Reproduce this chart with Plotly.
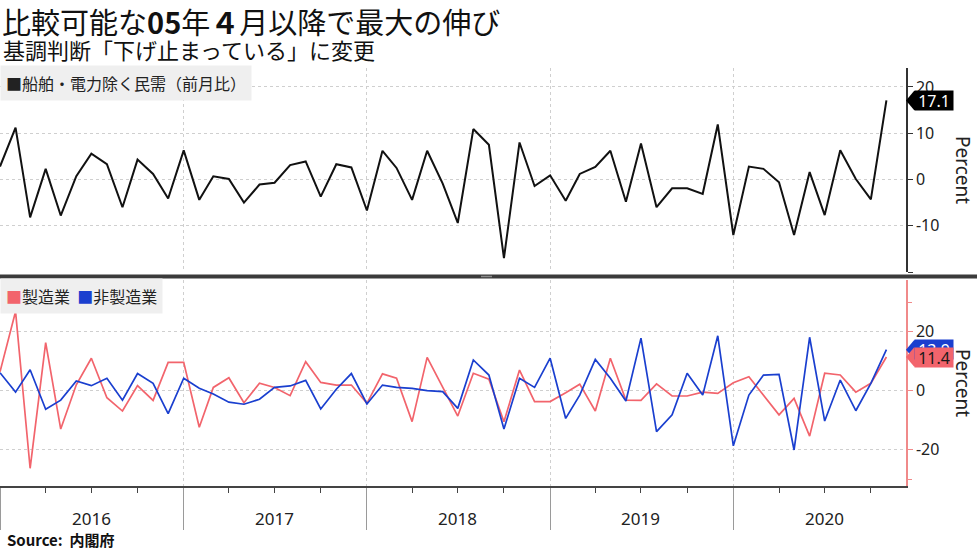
import plotly.graph_objects as go
import pandas as pd

# ---- data ----
months = pd.date_range("2016-01-01", periods=59, freq="MS")

core_orders = [2.8, 11.2, -8.2, 2.3, -7.8, 0.7, 5.6, 3.3, -6.0, 4.3, 1.2, -4.1,
               6.3, -4.4, 0.7, 0.1, -5.0, -1.1, -0.7, 3.1, 3.9, -3.7, 3.3, 2.6,
               -6.7, 6.2, 2.5, -4.4, 6.2, -0.9, -9.4, 10.9, 7.5, -17.0, 8.0, -1.4,
               0.9, -4.6, 1.2, 2.7, 6.2, -4.8, 7.8, -6.0, -1.9, -1.9, -3.1, 11.9,
               -12.0, 2.8, 2.3, -0.6, -12.0, 1.6, -7.7, 6.3, 0.1, -4.3, 17.1]

manufacturing = [6.4, 26.8, -26.3, 16.3, -13.0, 2.0, 11.0, -2.4, -6.9, 1.7, -3.3, 9.6,
                 9.6, -12.4, 1.1, 4.4, -4.1, 2.5, 1.1, -1.7, 9.8, 2.8, 1.9, 1.9,
                 -4.3, 5.7, 4.2, -10.5, 11.3, 1.4, -8.6, 5.9, 3.9, -10.5, 7.0, -3.7,
                 -3.7, -0.7, 2.2, -6.9, 11.0, -3.2, -3.3, 2.3, -1.8, -1.8, -0.5, -0.9,
                 2.7, 4.7, -1.7, -8.2, -2.6, -15.4, 5.9, 5.3, -0.5, 2.5, 11.4]

non_manufacturing = [6.1, -0.5, 7.1, -6.3, -3.2, 3.3, 1.7, 4.2, -3.2, 5.8, 2.5, -7.8,
                     4.2, 0.8, -1.1, -3.9, -4.6, -2.9, 1.1, 1.6, 3.5, -6.2, 0.5, 5.8,
                     -4.5, 1.9, 1.1, 0.8, 0.0, -0.3, -6.0, 10.4, 5.3, -13.0, 4.2, 1.1,
                     11.0, -9.4, -1.5, 10.6, 4.2, -3.5, 17.8, -13.9, -8.2, 5.9, -1.5, 18.6,
                     -18.7, -1.5, 5.3, 5.5, -20.1, 18.1, -10.3, 3.6, -6.8, 2.5, 13.9]

years = [2016, 2017, 2018, 2019, 2020]
top_ticks = [-20, -10, 0, 10, 20]
top_ticktext = ["", "-10", "0", "10", "20"]
bot_ticks = [-20, 0, 20]
bot_ticktext = ["-20", "0", "20"]

title = "比較可能な<b>05</b>年<b>４</b>月以降で最大の伸び"
subtitle = "基調判断「下げ止まっている」に変更"
legend_top = "■船舶・電力除く民需（前月比）"
name_mfg = "製造業"
name_nonmfg = "非製造業"
source = "<b>Source:  内閣府</b>"

# ---- styling ----
W, H = 977, 549
ML, MR, MT, MB = 0, 71, 68, 63
PH = H - MT - MB
PW = W - ML - MR
def pyp(py):
    return (H - MB - py) / PH
def pxp(px):
    return (px - ML) / PW

BLACK = "#111111"
RED = "#f2646c"
BLUE = "#1a3fcf"
GRID = "#cfcfcf"
CJK = "Noto Sans CJK JP"
LAT = "Noto Sans"

fig = go.Figure()
fig.add_trace(go.Scatter(x=months, y=core_orders, mode="lines",
                         line=dict(color=BLACK, width=2), xaxis="x2", yaxis="y",
                         showlegend=False, hoverinfo="skip"))
fig.add_trace(go.Scatter(x=months, y=manufacturing, mode="lines",
                         line=dict(color=RED, width=1.7), xaxis="x", yaxis="y2",
                         showlegend=False, hoverinfo="skip"))
fig.add_trace(go.Scatter(x=months, y=non_manufacturing, mode="lines",
                         line=dict(color=BLUE, width=1.7), xaxis="x", yaxis="y2",
                         showlegend=False, hoverinfo="skip"))

xrange = ["2016-01-01", "2020-12-10"]
year_starts = [f"{y}-01-01" for y in years]

fig.update_layout(
    width=W, height=H,
    margin=dict(l=ML, r=MR, t=MT, b=MB, autoexpand=False),
    paper_bgcolor="white", plot_bgcolor="white",
    font=dict(family=LAT, color="#222222"),
    xaxis=dict(domain=[0, 1], anchor="y2", type="date", range=xrange,
               tickmode="array", tickvals=year_starts, showticklabels=False,
               ticks="outside", ticklen=42, tickcolor="#9a9a9a", tickwidth=1,
               showgrid=True, gridcolor=GRID, griddash="dot", gridwidth=1,
               showline=True, linecolor="#444444", linewidth=1.5,
               minor=dict(ticks="outside", ticklen=5, tickcolor="#444444",
                          dtick="M3", tick0="2016-01-01", showgrid=False),
               zeroline=False),
    xaxis2=dict(domain=[0, 1], anchor="y", type="date", range=xrange, matches="x",
                tickmode="array", tickvals=year_starts, showticklabels=False,
                ticks="", showgrid=True, gridcolor=GRID, griddash="dot",
                showline=False, zeroline=False),
    yaxis=dict(domain=[pyp(272), 1], anchor="x2", side="right", range=[-20, 24.1],
               tickmode="array", tickvals=top_ticks, ticktext=top_ticktext,
               ticks="outside", ticklen=5, tickcolor="#333333",
               tickfont=dict(size=16, family=LAT, color="#222222"),
               showgrid=True, gridcolor=GRID, griddash="dot",
               showline=True, linecolor="#333333", linewidth=1.5, zeroline=False),
    yaxis2=dict(domain=[0, pyp(280)], anchor="x", side="right", range=[-32.3, 37.5],
                tickmode="array", tickvals=bot_ticks, ticktext=bot_ticktext,
                ticks="outside", ticklen=5, tickcolor="#f08a8a",
                tickfont=dict(size=16, family=LAT, color="#222222"),
                minor=dict(tickmode="array", tickvals=[-30, 30], ticks="outside",
                           ticklen=4, tickcolor="#f08a8a", showgrid=False),
                showgrid=True, gridcolor=GRID, griddash="dot",
                showline=True, linecolor="#f08a8a", linewidth=1.5, zeroline=False),
)

shapes = []
# separator between panels
shapes.append(dict(type="line", xref="paper", yref="paper", x0=0, x1=W / PW,
                   y0=pyp(276.5), y1=pyp(276.5), line=dict(color="#3b3b3b", width=4),
                   layer="above"))
shapes.append(dict(type="line", xref="paper", yref="paper", x0=pxp(481), x1=pxp(492),
                   y0=pyp(276.5), y1=pyp(276.5), line=dict(color="#8a8a8a", width=1.5),
                   layer="above"))

ann = []

def tag(value, yref, fill, txtcolor):
    # arrow part of the value tag, drawn as a pixel-sized shape anchored on the axis
    shapes.append(dict(type="path", xref="paper", yref=yref, xsizemode="pixel",
                       ysizemode="pixel", xanchor=1, yanchor=value,
                       path="M0,0 L8,9.5 L10,9.5 L10,-9.5 L8,-9.5 Z",
                       fillcolor=fill, line=dict(width=0), layer="above"))
    ann.append(dict(text=f"{value:.1f}", xref="paper", yref=yref, x=1, y=value,
                    xanchor="left", yanchor="middle", xshift=8, showarrow=False,
                    width=38, height=19, bgcolor=fill, borderpad=0, align="center",
                    font=dict(size=16, family=LAT, color=txtcolor)))

tag(core_orders[-1], "y", "#000000", "white")
tag(non_manufacturing[-1], "y2", BLUE, "white")
tag(manufacturing[-1], "y2", RED, "#1a1a1a")
fig.update_layout(shapes=shapes)

ann.append(dict(text=title, xref="paper", yref="paper", x=pxp(0), y=pyp(21),
                xanchor="left", yanchor="middle", showarrow=False,
                font=dict(size=29, family=CJK, color="#111111")))
ann.append(dict(text=subtitle, xref="paper", yref="paper", x=pxp(1), y=pyp(49),
                xanchor="left", yanchor="middle", showarrow=False,
                font=dict(size=22, family=CJK, color="#111111")))
ann.append(dict(text=legend_top, xref="paper", yref="paper", x=0, y=pyp(83),
                xanchor="left", yanchor="middle", showarrow=False,
                bgcolor="#efefef", borderpad=5,
                font=dict(size=16, family=CJK, color="#222222")))
ann.append(dict(text=(f"<span style='color:{RED}'>■</span>{name_mfg}  "
                      f"<span style='color:{BLUE}'>■</span>{name_nonmfg}"),
                xref="paper", yref="paper", x=0, y=pyp(295.5),
                xanchor="left", yanchor="middle", showarrow=False,
                bgcolor="#efefef", borderpad=5,
                font=dict(size=16, family=CJK, color="#222222")))
for yr in ["y domain", "y2 domain"]:
    ann.append(dict(text="Percent", xref="paper", yref=yr, x=pxp(963), y=0.5,
                    xanchor="center", yanchor="middle", showarrow=False, textangle=90,
                    font=dict(size=19, family=LAT, color="#222222")))
for y in years:
    ann.append(dict(text=str(y), xref="x", yref="paper", x=f"{y}-07-01", y=pyp(518),
                    xanchor="center", yanchor="middle", showarrow=False,
                    font=dict(size=17, family=LAT, color="#222222")))
ann.append(dict(text=source, xref="paper", yref="paper", x=pxp(5), y=pyp(539),
                xanchor="left", yanchor="middle", showarrow=False,
                font=dict(size=15, family=CJK, color="#111111")))
fig.update_layout(annotations=ann)

fig.write_html("out.html", config={"displayModeBar": False},
               post_script="document.body.style.margin='0';")
